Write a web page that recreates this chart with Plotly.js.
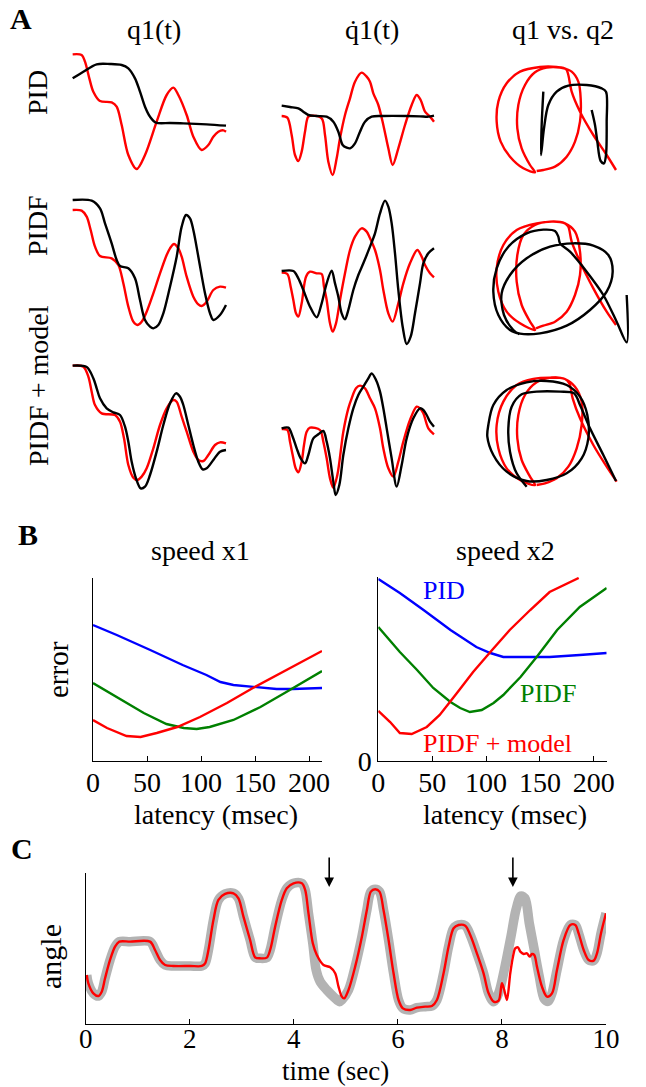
<!DOCTYPE html>
<html><head><meta charset="utf-8">
<script src="https://cdn.plot.ly/plotly-3.0.1.min.js"></script>
<style>html,body{margin:0;padding:0;background:#fff;}#chart{width:646px;height:1087px;}</style>
</head><body><div id="chart"></div>
<script>
// ---------- Panel A : time series (t in samples, q in rad) ----------
// red = target trajectory, black = produced trajectory
const pidQ1TargetT = [0,27,37,50,62,82,117,132,147,167,192,217,252,282,302,317,342,362,387,407,422,437,452,460];
const pidQ1Target  = [3.72,3.70,3.50,3.00,2.60,2.32,2.28,2.15,1.60,0.70,0.28,0.70,1.70,2.50,2.72,2.50,1.90,1.25,0.85,1.00,1.25,1.40,1.44,1.40];
const pidQ1ActualT = [0,32,72,112,147,167,187,202,217,232,250,292,332,402,460];
const pidQ1Actual  = [3.00,3.20,3.42,3.43,3.40,3.30,3.00,2.60,2.15,1.85,1.67,1.66,1.65,1.62,1.58];

const pidQdTargetT = [0,17,30,40,50,60,70,80,95,120,130,140,153,165,175,190,205,220,240,255,265,275,290,305,320,333,350,370,390,405,417,430,445,457];
const pidQdTarget  = [1.87,1.82,1.30,0.70,0.52,0.80,1.40,1.85,1.88,1.80,1.30,0.50,0.10,0.60,1.20,1.90,2.40,2.90,3.17,3.05,2.90,2.55,2.20,1.60,0.90,0.40,0.90,1.60,2.20,2.50,2.35,2.00,1.85,1.70];
const pidQdActualT = [0,25,50,65,80,105,135,155,170,183,195,205,220,235,250,270,305,375,415,440,457];
const pidQdActual  = [2.18,2.14,2.10,2.00,1.90,1.87,1.85,1.70,1.40,1.00,0.92,0.90,1.05,1.40,1.70,1.85,1.87,1.87,1.86,1.85,1.88];

const pidfQ1TargetT = [0,27,42,54,67,82,117,137,152,167,182,194,207,222,242,262,282,292,304,317,327,342,362,377,387,402,422,442,460];
const pidfQ1Target  = [3.40,3.38,3.20,2.80,2.30,2.02,1.95,1.75,1.20,0.50,0.05,-0.05,0.05,0.35,0.90,1.50,2.05,2.25,2.38,2.25,2.00,1.40,0.80,0.57,0.52,0.65,1.00,1.10,1.07];
const pidfQ1ActualT = [0,57,82,97,117,132,142,167,187,202,217,232,242,257,272,292,312,327,340,352,362,377,397,412,422,442,460];
const pidfQ1Actual  = [3.70,3.68,3.45,3.00,2.40,1.90,1.72,1.65,1.35,0.70,0.10,-0.10,-0.15,-0.05,0.30,1.10,2.00,2.90,3.25,3.15,2.80,2.00,0.90,0.30,0.10,0.25,0.55];

const pidfQdTargetT = [0,17,27,35,43,50,60,73,85,105,120,127,135,145,153,163,175,190,205,220,240,255,263,280,295,305,320,333,350,365,385,407,420,430,445,457];
const pidfQdTarget  = [1.52,1.48,1.10,0.70,0.30,0.20,0.60,1.40,1.55,1.50,1.48,1.10,0.70,0.00,-0.25,0.00,0.70,1.50,2.20,2.60,2.85,2.75,2.60,2.20,1.60,1.00,0.30,0.05,0.60,1.20,1.80,2.20,2.00,1.75,1.50,1.38];
const pidfQdActualT = [0,35,50,65,85,105,120,135,150,160,170,180,190,200,215,230,245,265,280,295,310,320,330,340,350,363,375,387,400,415,425,440,457];
const pidfQdActual  = [1.57,1.57,1.35,1.00,0.50,0.18,0.60,1.20,1.58,1.20,0.80,0.30,0.12,0.40,1.00,1.45,1.80,2.30,2.70,3.30,3.68,3.50,3.00,2.10,1.00,-0.10,-0.62,-0.40,0.30,1.20,1.80,2.10,2.25];

const modelQ1TargetT = [0,32,47,57,67,87,127,142,154,167,182,194,207,222,242,262,282,302,312,327,342,362,377,392,407,427,442,460];
const modelQ1Target  = [3.68,3.65,3.35,2.90,2.50,2.25,2.20,2.00,1.50,0.70,0.32,0.25,0.35,0.60,1.20,1.90,2.40,2.65,2.60,2.15,1.70,1.10,0.85,0.82,1.00,1.30,1.38,1.35];
const modelQ1ActualT = [0,42,62,72,82,102,122,142,157,167,177,190,204,217,232,252,272,292,310,322,332,347,362,377,390,402,422,442,460];
const modelQ1Actual  = [3.68,3.64,3.30,3.00,2.70,2.40,2.28,2.20,1.85,1.40,0.80,0.30,0.00,0.05,0.40,1.10,1.90,2.55,2.85,2.75,2.50,1.90,1.30,0.80,0.57,0.60,0.85,1.10,1.15];

const modelQdTargetT = [0,17,25,33,42,50,60,67,75,85,115,125,135,145,155,167,185,200,210,223,235,250,265,280,295,305,320,335,350,365,385,405,415,425,440,457];
const modelQdTarget  = [1.78,1.75,1.40,1.00,0.60,0.48,0.80,1.30,1.70,1.82,1.75,1.40,0.90,0.30,0.02,0.40,1.70,2.40,2.70,3.00,3.08,3.00,2.70,2.40,1.80,1.20,0.60,0.35,0.80,1.40,2.05,2.45,2.40,2.25,1.80,1.62];
const modelQdActualT = [0,20,33,45,57,70,80,95,110,125,135,145,155,162,173,185,200,215,230,245,260,270,283,295,305,315,330,345,360,375,395,415,425,435,445,457];
const modelQdActual  = [1.80,1.82,1.55,1.20,0.90,0.75,1.00,1.50,1.62,1.72,1.40,0.90,0.20,-0.20,0.10,1.00,1.80,2.40,2.80,3.05,3.30,3.45,3.25,2.90,2.40,1.80,0.90,0.05,0.70,1.50,2.10,2.40,2.35,2.20,2.00,1.85];

// ---------- Panel A : q1 vs q2 ----------
const pidPhTargetQ1 = [4.08,3.80,3.40,3.00,2.75,2.65,2.58,2.30,1.80,1.20,0.80,0.55,0.50,0.62,0.90,1.30,1.65,1.50,1.25,1.12,1.15,1.35,1.65,2.00,2.40,2.75,2.95,3.02,3.00,2.85,2.60,2.25,1.90,1.70];
const pidPhTargetQ2 = [0.55,1.00,1.60,2.30,2.90,3.40,3.58,3.64,3.64,3.50,3.15,2.60,2.00,1.40,0.95,0.60,0.48,0.70,1.20,1.80,2.50,3.10,3.48,3.62,3.62,3.50,3.20,2.70,2.00,1.40,0.95,0.65,0.55,0.52];
const pidPhActualQ1 = [1.90,1.85,1.83,1.92,2.05,2.30,2.65,3.20,3.65,3.78,3.80,3.78,3.72,3.62,3.52,3.45,3.35];
const pidPhActualQ2 = [2.90,1.90,1.00,1.80,2.50,2.90,3.08,3.10,3.00,2.90,2.00,1.00,0.75,0.82,1.40,1.90,2.35];

const pidfPhTargetQ1 = [4.08,3.80,3.40,3.00,2.75,2.65,2.55,2.20,1.70,1.10,0.70,0.50,0.55,0.80,1.20,1.65,1.50,1.25,1.10,1.12,1.30,1.65,2.10,2.55,2.85,3.00,3.00,2.85,2.60,2.25,1.90,1.68];
const pidfPhTargetQ2 = [0.90,1.30,2.00,2.80,3.40,3.85,3.95,4.00,3.95,3.75,3.30,2.60,1.90,1.30,0.95,0.75,1.00,1.50,2.20,3.00,3.60,3.90,4.00,3.95,3.70,3.10,2.40,1.80,1.30,1.00,0.88,0.80];
const pidfPhActualQ1 = [4.40,4.40,4.10,3.70,3.20,2.70,2.40,2.35,2.25,1.90,1.40,0.85,0.50,0.40,0.55,0.90,1.20,1.80,2.60,3.30,3.80,3.98,3.85,3.40,2.80,2.10,1.40,0.90,0.65,0.72,1.00,1.18];
const pidfPhActualQ2 = [1.80,0.38,1.00,1.80,2.50,3.10,3.35,3.55,3.72,3.76,3.65,3.25,2.60,1.90,1.20,0.75,0.64,0.65,0.88,1.35,1.90,2.50,3.00,3.28,3.35,3.25,2.90,2.40,1.85,1.20,0.75,0.62];

const modelPhTargetQ1 = [4.10,3.80,3.40,3.00,2.78,2.68,2.55,2.10,1.60,1.10,0.70,0.50,0.55,0.80,1.20,1.65,1.50,1.25,1.12,1.15,1.35,1.70,2.15,2.55,2.85,3.05,3.05,2.90,2.65,2.30,1.95,1.70];
const modelPhTargetQ2 = [0.40,0.85,1.50,2.30,2.90,3.35,3.48,3.52,3.48,3.30,2.80,2.10,1.40,0.80,0.45,0.30,0.55,1.05,1.70,2.40,3.00,3.38,3.52,3.48,3.25,2.80,2.10,1.40,0.85,0.50,0.35,0.30];
const modelPhActualQ1 = [0.25,0.40,0.80,1.40,2.00,2.60,3.00,3.22,3.25,3.05,2.60,2.00,1.40,0.80,0.40,0.22,0.25,null,1.40,1.10,0.90,0.85,0.95,1.25,1.70,2.40,2.82,3.00,3.30,3.70,4.08];
const modelPhActualQ2 = [2.10,2.70,3.15,3.38,3.42,3.30,2.95,2.40,1.70,1.10,0.65,0.45,0.42,0.70,1.20,1.75,2.10,null,0.25,0.65,1.30,2.00,2.65,3.02,3.10,3.10,3.05,2.70,2.00,1.20,0.42];

// ---------- Panel B : error vs latency (msec) ----------
const x1PidLat   = [0,22,53,83,105,118,130,148,170,185,212];
const x1PidErr   = [1.36,1.26,1.11,0.96,0.86,0.79,0.76,0.74,0.72,0.72,0.73];
const x1PidfLat  = [0,22,47,68,84,96,108,130,155,179,212];
const x1PidfErr  = [0.78,0.64,0.48,0.37,0.33,0.32,0.34,0.41,0.54,0.69,0.90];
const x1ModelLat = [0,13,31,44,59,78,99,124,148,179,212];
const x1ModelErr = [0.41,0.33,0.25,0.24,0.28,0.34,0.44,0.58,0.73,0.91,1.10];

const x2PidLat   = [0,20,42,67,91,104,116,135,159,187,212];
const x2PidErr   = [1.82,1.68,1.51,1.31,1.14,1.08,1.04,1.04,1.04,1.06,1.08];
const x2PidfLat  = [0,20,36,51,67,76,85,96,107,116,132,147,166,187,212];
const x2PidfErr  = [1.34,1.09,0.91,0.73,0.59,0.53,0.49,0.51,0.58,0.66,0.84,1.04,1.31,1.54,1.73];
const x2ModelLat = [0,11,20,31,45,57,73,88,104,122,141,159,186];
const x2ModelErr = [0.50,0.39,0.28,0.27,0.34,0.46,0.68,0.89,1.09,1.31,1.51,1.69,1.83];

const latencyTicks = [0,50,100,150,200];

// ---------- Panel C : angle vs time (sec) ----------
const cTargetT = [0.02,0.051,0.147,0.244,0.308,0.372,0.468,0.564,0.647,0.853,1.237,1.333,1.429,1.526,1.686,2.006,2.231,2.295,2.359,2.455,2.551,2.679,2.840,2.936,3.032,3.160,3.256,3.353,3.481,3.545,3.641,3.769,3.865,3.994,4.154,4.218,4.282,4.365,
  4.429,4.506,4.635,4.763,4.878,4.923,
  5.051,5.179,5.308,5.404,5.481,5.564,5.647,5.724,5.821,5.917,6.013,6.096,6.237,6.365,6.526,6.654,6.750,6.878,6.974,7.071,7.167,7.295,7.391,7.519,7.647,7.744,7.840,
  7.936,8.045,8.173,8.269,8.365,8.442,8.526,8.622,8.718,8.814,8.891,8.962,
  9.058,9.186,9.314,9.410,9.474,9.571,9.667,9.763,9.827,9.904,10.0];
const cTargetAngle = [1.47,1.22,0.92,0.84,0.97,1.37,1.92,2.32,2.47,2.47,2.47,2.22,1.92,1.77,1.74,1.74,1.74,1.82,2.22,3.12,3.72,3.90,3.92,3.77,3.22,2.52,2.00,1.97,1.99,2.22,2.92,3.72,4.07,4.22,4.22,4.02,3.32,2.42,
  1.62,1.27,1.02,0.82,0.67,0.72,
  1.02,1.72,2.62,3.42,3.97,4.04,3.97,3.42,2.52,1.52,0.72,0.47,0.42,0.49,0.52,0.54,0.72,1.52,2.32,2.87,2.97,2.95,2.67,2.12,1.52,0.92,0.67,
  0.92,1.62,2.62,3.42,3.84,3.77,3.02,2.22,1.42,0.75,0.68,0.92,
  1.62,2.52,2.97,2.97,2.72,2.22,1.92,1.90,2.12,2.72,3.32];
const cActualT = [0.02,0.051,0.147,0.244,0.308,0.372,0.468,0.564,0.647,0.853,1.237,1.333,1.429,1.526,1.686,2.006,2.231,2.295,2.359,2.455,2.551,2.679,2.840,2.936,3.032,3.160,3.256,3.353,3.481,3.545,3.641,3.769,3.865,3.994,4.154,4.218,4.282,4.365,
  4.442,4.571,4.699,4.795,4.859,4.923,4.968,
  5.051,5.179,5.308,5.404,5.481,5.564,5.647,5.724,5.821,5.917,6.013,6.096,6.237,6.365,6.526,6.654,6.750,6.878,6.974,7.071,7.167,7.295,7.391,7.519,7.647,7.744,7.840,
  7.936,8.000,8.045,8.096,8.160,8.212,8.256,8.308,8.353,8.417,8.481,8.532,8.577,8.622,8.673,8.769,8.865,8.962,
  9.058,9.186,9.314,9.410,9.474,9.571,9.667,9.763,9.827,9.904,10.0];
const cActualAngle = [1.47,1.22,0.92,0.84,0.97,1.37,1.92,2.32,2.47,2.47,2.47,2.22,1.92,1.77,1.74,1.74,1.74,1.82,2.22,3.12,3.72,3.90,3.92,3.77,3.22,2.52,2.00,1.97,1.99,2.22,2.92,3.72,4.07,4.22,4.22,4.02,3.32,2.42,
  2.07,1.77,1.70,1.52,1.12,0.82,0.77,
  1.02,1.72,2.62,3.42,3.97,4.04,3.97,3.42,2.52,1.52,0.72,0.47,0.42,0.49,0.52,0.54,0.72,1.52,2.32,2.87,2.97,2.95,2.67,2.12,1.52,0.92,0.67,
  0.70,1.22,1.02,0.72,1.52,2.02,2.27,2.30,2.17,2.10,2.12,2.02,2.10,2.07,1.72,1.12,0.82,0.92,
  1.62,2.52,2.97,2.97,2.72,2.22,1.92,1.90,2.12,2.72,3.32];
const timeTicks = [0,2,4,6,8,10];
const arrowTimes = [4.68, 8.21];

// ---------- layout helpers ----------
const W = 646, H = 1087;
const FONT = 'Liberation Serif, Times New Roman, Times, serif';
const fx = p => p / W;
const fy = p => 1 - p / H;
const RED = '#ff0000', BLACK = '#000000', BLUE = '#0000ff', GREEN = '#008000', GRAY = '#b3b3b3';

const traces = [];
const layout = {
  width: W, height: H, margin: {l:0, r:0, t:0, b:0},
  paper_bgcolor: '#fff', plot_bgcolor: 'rgba(0,0,0,0)', showlegend: false,
  font: {family: FONT, color: '#000', size: 28},
  annotations: []
};

function line(x, y, color, width, ax, shape) {
  traces.push({x, y, type: 'scatter', mode: 'lines', xaxis: 'x' + ax, yaxis: 'y' + ax,
    line: {color, width, shape: shape || 'spline', smoothing: 0.9}, connectgaps: false, hoverinfo: 'skip'});
}
function hidden(n, xdom, xr, ydom, yr) {
  const s = n === 1 ? '' : n;
  layout['xaxis' + s] = {domain: [fx(xdom[0]), fx(xdom[1])], range: xr, visible: false, anchor: 'y' + s, fixedrange: true};
  layout['yaxis' + s] = {domain: [fy(ydom[1]), fy(ydom[0])], range: yr, visible: false, anchor: 'x' + s, fixedrange: true};
}

// Panel A grid
const colX = [[55,240],[270,445],[480,640]];
const colRange = [[-53,502],[-35,490],[0,4.8]];
const tsRowY = [[45,180],[190,355],[355,500]];
const tsRowRange = [[-0.05,4.0],[-0.95,4.0],[-0.35,4.0]];
const phRowY = [[55,180],[200,355],[360,500]];
const phRowRange = [[0.25,4.0],[0,4.65],[-0.15,4.05]];

const aData = [
  [[pidQ1TargetT,pidQ1Target,pidQ1ActualT,pidQ1Actual],[pidQdTargetT,pidQdTarget,pidQdActualT,pidQdActual],[pidPhTargetQ1,pidPhTargetQ2,pidPhActualQ1,pidPhActualQ2]],
  [[pidfQ1TargetT,pidfQ1Target,pidfQ1ActualT,pidfQ1Actual],[pidfQdTargetT,pidfQdTarget,pidfQdActualT,pidfQdActual],[pidfPhTargetQ1,pidfPhTargetQ2,pidfPhActualQ1,pidfPhActualQ2]],
  [[modelQ1TargetT,modelQ1Target,modelQ1ActualT,modelQ1Actual],[modelQdTargetT,modelQdTarget,modelQdActualT,modelQdActual],[modelPhTargetQ1,modelPhTargetQ2,modelPhActualQ1,modelPhActualQ2]]
];
for (let r = 0; r < 3; r++) {
  for (let c = 0; c < 3; c++) {
    const n = r * 3 + c + 1;
    const yd = c === 2 ? phRowY[r] : tsRowY[r];
    const yr = c === 2 ? phRowRange[r] : tsRowRange[r];
    hidden(n, colX[c], colRange[c], yd, yr);
    const d = aData[r][c];
    line(d[0], d[1], RED, 2.4, n === 1 ? '' : n);
    line(d[2], d[3], BLACK, 2.4, n === 1 ? '' : n);
  }
}

// Panel B axes
function bAxes(n, xdom, ydom, yr, yTicks) {
  layout['xaxis' + n] = {domain: [fx(xdom[0]), fx(xdom[1])], range: [0, 212], anchor: 'y' + n,
    showline: true, linecolor: '#000', linewidth: 1, mirror: false, showgrid: false, zeroline: false,
    ticks: 'inside', ticklen: 5, tickcolor: '#000', tickvals: latencyTicks, ticklabelstandoff: -4,
    tickfont: {family: FONT, size: 28, color: '#000'}, fixedrange: true};
  layout['yaxis' + n] = {domain: [fy(ydom[1]), fy(ydom[0])], range: yr, anchor: 'x' + n,
    showline: true, linecolor: '#000', linewidth: 1, showgrid: false, zeroline: false,
    ticks: '', tickvals: yTicks, showticklabels: yTicks.length > 0,
    tickfont: {family: FONT, size: 28, color: '#000'}, fixedrange: true};
}
bAxes(10, [93,322], [578,761], [0,1.83], []);
bAxes(11, [378.3,606.7], [577,761], [0,1.84], [0]);
line(x1PidLat, x1PidErr, BLUE, 2.4, 10, 'linear');
line(x1PidfLat, x1PidfErr, GREEN, 2.4, 10, 'linear');
line(x1ModelLat, x1ModelErr, RED, 2.4, 10, 'linear');
line(x2PidLat, x2PidErr, BLUE, 2.4, 11, 'linear');
line(x2PidfLat, x2PidfErr, GREEN, 2.4, 11, 'linear');
line(x2ModelLat, x2ModelErr, RED, 2.4, 11, 'linear');

// Panel C axes
layout.xaxis12 = {domain: [fx(85.7), fx(606)], range: [0, 10], anchor: 'y12',
  showline: true, linecolor: '#000', linewidth: 1, showgrid: false, zeroline: false,
  ticks: 'inside', ticklen: 5, tickcolor: '#000', tickvals: timeTicks, ticklabelstandoff: -9,
  tickfont: {family: FONT, size: 27, color: '#000'}, fixedrange: true};
layout.yaxis12 = {domain: [fy(1024), fy(873.3)], range: [0, 4.52], anchor: 'x12',
  showline: true, linecolor: '#000', linewidth: 1, showgrid: false, zeroline: false,
  ticks: '', showticklabels: false, fixedrange: true};
line(cTargetT, cTargetAngle, GRAY, 9.5, 12);
line(cActualT, cActualAngle, RED, 2.4, 12);

// Texts
function txt(text, x, y, size, opts) {
  layout.annotations.push(Object.assign({text, x: fx(x), y: fy(y), xref: 'paper', yref: 'paper',
    showarrow: false, xanchor: 'center', yanchor: 'middle', font: {family: FONT, size, color: '#000'}}, opts || {}));
}
txt('<b>A</b>', 21, 18, 30);
txt('q1(t)', 154, 30, 28);
txt('q\u03071(t)', 372, 30, 28);
txt('q1 vs. q2', 563, 30, 28);
txt('PID', 38, 93, 28, {textangle: -90});
txt('PIDF', 38, 226, 28, {textangle: -90});
txt('PIDF + model', 38, 386, 28, {textangle: -90});
txt('<b>B</b>', 28, 534, 30);
txt('speed x1', 200, 550, 28);
txt('speed x2', 505, 550, 28);
txt('error', 58, 670, 29, {textangle: -90});
txt('latency (msec)', 216, 814, 28);
txt('latency (msec)', 505, 814, 28);
txt('PID', 444, 590, 26, {font: {family: FONT, size: 26, color: BLUE}});
txt('PIDF', 548, 693, 26, {font: {family: FONT, size: 26, color: GREEN}});
txt('PIDF + model', 497, 743, 26, {font: {family: FONT, size: 26, color: RED}});
txt('<b>C</b>', 22, 848, 30);
txt('angle', 50, 957, 30, {textangle: -90});
txt('time (sec)', 335, 1071, 27, {borderpad: 0});
arrowTimes.forEach(t => {
  layout.annotations.push({x: t, y: fy(887), xref: 'x12', yref: 'paper', text: '', showarrow: true,
    ax: 0, ay: -31, arrowhead: 2, arrowsize: 1.2, arrowwidth: 1.6, arrowcolor: '#000'});
});

Plotly.newPlot('chart', traces, layout, {staticPlot: true, displayModeBar: false});
</script></body></html>
